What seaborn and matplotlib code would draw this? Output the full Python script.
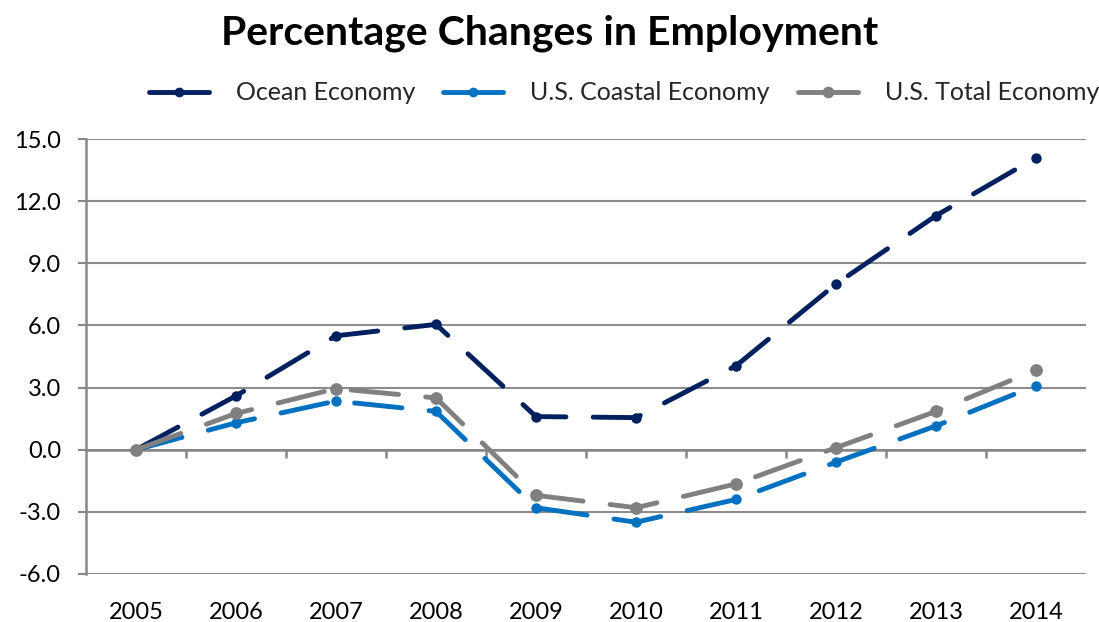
import numpy as np
import pandas as pd
import matplotlib
matplotlib.use("Agg")
import matplotlib.pyplot as plt
import seaborn as sns
from matplotlib.lines import Line2D

years = ["2005", "2006", "2007", "2008", "2009", "2010", "2011", "2012", "2013", "2014"]
ocean = [0.0, 2.6, 5.5, 6.05, 1.6, 1.55, 4.05, 8.0, 11.3, 14.1]
coastal = [0.0, 1.3, 2.35, 1.85, -2.8, -3.5, -2.4, -0.6, 1.15, 3.1]
total = [0.0, 1.75, 2.95, 2.5, -2.2, -2.8, -1.65, 0.1, 1.85, 3.85]
series_names = ["Ocean Economy", "U.S. Coastal Economy", "U.S. Total Economy"]
yticks = [-6.0, -3.0, 0.0, 3.0, 6.0, 9.0, 12.0, 15.0]

sns.set_theme(style="white")
plt.rcParams["font.family"] = ["Lato", "DejaVu Sans"]

df = pd.DataFrame({"year": years * 3,
                   "x": list(range(len(years))) * 3,
                   "value": ocean + coastal + total,
                   "series": sum([[n] * len(years) for n in series_names], [])})

colors = {"Ocean Economy": "#002060", "U.S. Coastal Economy": "#0070C0", "U.S. Total Economy": "#808080"}
msizes = {"Ocean Economy": 7.5, "U.S. Coastal Economy": 7.5, "U.S. Total Economy": 9.2}

fig = plt.figure(figsize=(10.99, 6.22), dpi=100)
ax = fig.add_axes([86 / 1099, 1 - 574 / 622, 1000 / 1099, 435 / 622])

lw = 3.5
for name in series_names:
    sub = df[df["series"] == name]
    sns.lineplot(data=sub, x="x", y="value", ax=ax, color=colors[name], lw=lw,
                 marker="o", markersize=msizes[name], markeredgewidth=0,
                 legend=False, zorder=3)
for line in ax.get_lines():
    line.set_linestyle((0, (9.8, 5.6)))
    line.set_dash_capstyle("round")
    line.set_solid_capstyle("round")

ax.set_xlim(-0.5, len(years) - 0.5)
ax.set_ylim(-6, 15)
ax.set_yticks(yticks)
ax.set_yticklabels([f"{v:.1f}" for v in yticks], fontsize=17, color="#000000")
ax.set_xticks(range(len(years)))
ax.set_xticklabels(years, fontsize=17, color="#000000")
ax.tick_params(axis="x", length=0, pad=20)
ax.tick_params(axis="y", length=6, width=1.5, color="#888888", pad=12, left=True)
ax.grid(axis="y", color="#8c8c8c", lw=1.5)
ax.grid(axis="x", visible=False)
for s in ["top", "right", "bottom"]:
    ax.spines[s].set_visible(False)
ax.spines["left"].set_color("#888888")
ax.spines["left"].set_linewidth(1.8)
ax.axhline(0, color="#888888", lw=1.8, zorder=2)
ax.vlines(np.arange(0.5, len(years) - 0.5), -0.4, 0, color="#888888", lw=1.8, zorder=2)
ax.set_xlabel("")
ax.set_ylabel("")

fig.text(0.5, 1 - 33 / 622, "Percentage Changes in Employment", ha="center", va="center",
         fontsize=29.5, fontweight="bold", color="#000000")

handles = [Line2D([0], [0], color=colors[n], lw=lw, marker="o", markersize=msizes[n] * 0.8,
                  solid_capstyle="round") for n in series_names]
fig.legend(handles, series_names, loc="center", bbox_to_anchor=(624 / 1099, 1 - 93 / 622),
           ncol=3, frameon=False, fontsize=18, handlelength=2.4, columnspacing=1.1,
           handletextpad=1.1)

fig.savefig("out.png", dpi=100, facecolor="white")
